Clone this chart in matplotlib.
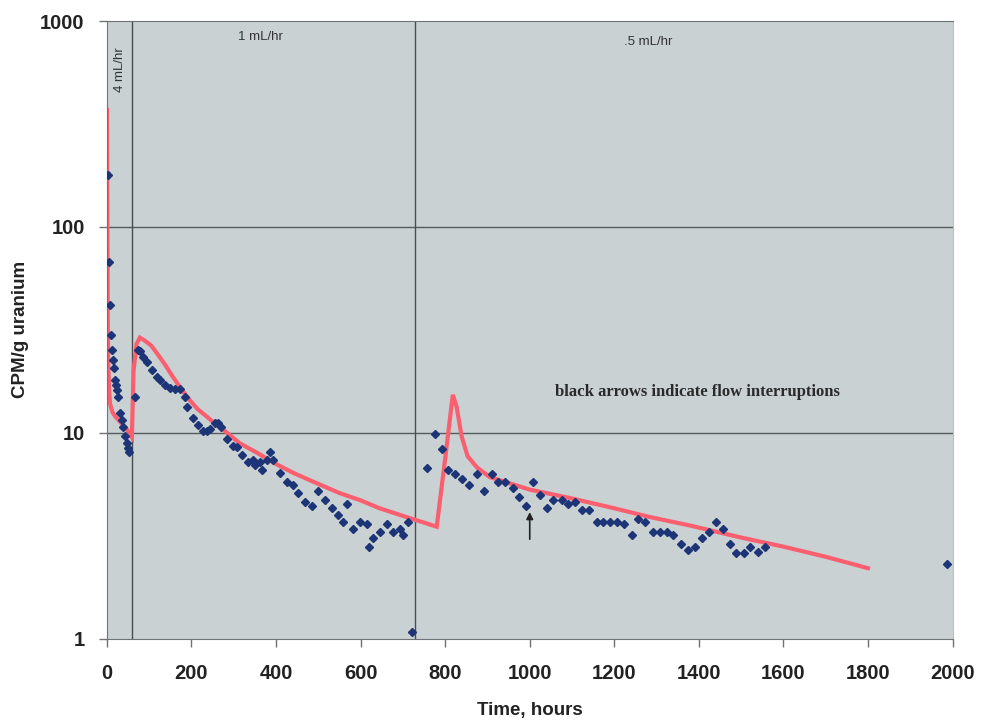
import matplotlib.pyplot as plt
import numpy as np

plt.rcParams['font.family'] = ['Liberation Sans', 'DejaVu Sans']

# measured CPM/g uranium (blue diamonds)
hours = [2, 4, 7, 9, 12, 14, 17, 19, 22, 24, 26, 31, 35, 38, 43, 47, 50, 52,
         66, 73, 78, 85, 94, 106, 118, 125, 137, 149, 161, 173, 184, 189,
         203, 215, 227, 236, 243, 255, 262, 270, 284, 298, 307, 319, 333,
         345, 350, 362, 366, 378, 385, 392, 409, 426, 440, 452, 468, 485,
         499, 515, 532, 546, 558, 567, 582, 598, 615, 619, 629, 645, 662,
         676, 693, 700, 712, 721,
         756, 775, 792, 806, 823, 839, 856, 875, 891, 910, 924, 941, 960,
         974, 991, 1007, 1024, 1040, 1054, 1076, 1090, 1106, 1123, 1140,
         1158, 1173, 1189, 1206, 1222, 1241, 1255, 1272, 1291, 1307, 1324,
         1338, 1357, 1374, 1390, 1407, 1423, 1440, 1456, 1473, 1489, 1506,
         1522, 1539, 1556, 1986]
cpm = [179, 67.6, 41.8, 29.9, 25.3, 22.6, 20.7, 18.1, 17.0, 16.2, 15.0, 12.5,
       11.6, 10.7, 9.6, 8.9, 8.45, 8.1,
       15.0, 25.3, 24.9, 23.4, 22.1, 20.3, 18.7, 18.1, 17.0, 16.6, 16.4, 16.4,
       15.0, 13.4, 11.8, 10.9, 10.2, 10.2, 10.4, 11.2, 11.2, 10.7, 9.3, 8.6,
       8.5, 7.8, 7.2, 7.4, 7.0, 7.2, 6.6, 7.4, 8.1, 7.4, 6.4, 5.8, 5.6, 5.1,
       4.6, 4.4, 5.2, 4.7, 4.3, 4.0, 3.7, 4.5, 3.4, 3.7, 3.6, 2.8, 3.1, 3.3,
       3.6, 3.3, 3.4, 3.2, 3.7, 1.08,
       6.75, 9.9, 8.3, 6.6, 6.3, 6.0, 5.6, 6.3, 5.2, 6.3, 5.8, 5.8, 5.4,
       4.9, 4.4, 5.8, 5.0, 4.3, 4.7, 4.7, 4.5, 4.6, 4.2, 4.2, 3.7, 3.7, 3.7,
       3.7, 3.6, 3.2, 3.8, 3.7, 3.3, 3.3, 3.3, 3.2, 2.9, 2.7, 2.8, 3.1, 3.3,
       3.7, 3.4, 2.9, 2.6, 2.6, 2.8, 2.65, 2.8, 2.3]

# model curve (red line)
model_t = [0, 0.5, 1, 1.5, 2, 3, 5, 7, 10, 14, 20, 31, 40, 47, 54, 59,
           63, 70, 78, 90, 105, 118, 137, 156, 175, 196, 215, 236, 255, 274,
           314, 355, 392, 440, 487, 550, 600, 645, 700, 780,
           800, 818, 827, 839, 853, 875, 905, 1000, 1100, 1200, 1284, 1378,
           1500, 1600, 1700, 1800]
model_cpm = [370, 200, 110, 60, 35, 22, 16.5, 14.0, 13.2, 12.5, 12.0, 11.3,
             10.8, 10.4, 9.8, 9.5,
             20, 27, 29, 28, 26.5, 24.4, 21.5, 18.7, 16.4, 14.4, 13.0, 12.0,
             11.1, 10.4, 8.9, 8.0, 7.2, 6.4, 5.8, 5.1, 4.7, 4.3, 3.95, 3.5,
             7.5, 15.3, 13.4, 9.6, 7.7, 6.8, 6.1, 5.3, 4.8, 4.3, 3.9, 3.55,
             3.1, 2.8, 2.5, 2.2]

flow_changes = [59, 728]

fig = plt.figure(figsize=(9.81, 7.25), dpi=100)
ax = fig.add_axes([0.109, 0.119, 0.862, 0.852])
ax.set_facecolor('#c9d1d3')

ax.plot(model_t, model_cpm, color='#fa5f6f', lw=3, zorder=2,
        solid_joinstyle='miter')
ax.plot(hours, cpm, ls='none', marker='D', ms=4.5, color='#1d3576', zorder=3)

ax.set_yscale('log')
ax.set_ylim(1, 1000)
ax.set_xlim(0, 2000)
ax.set_xticks(np.arange(0, 2001, 200))
ax.set_yticks([1, 10, 100, 1000])
ax.set_yticklabels(['1', '10', '100', '1000'])
ax.yaxis.set_minor_locator(plt.NullLocator())

for yv in [10, 100]:
    ax.axhline(yv, color='#575b5d', lw=1, zorder=1)
for xv in flow_changes:
    ax.axvline(xv, color='#4a4d4f', lw=1, zorder=1)

for side in ['left', 'bottom', 'top']:
    ax.spines[side].set_color('#6f7375')
ax.spines['right'].set_color('#b8bfc1')

ax.tick_params(direction='out', length=6, color='#6f7375', width=1,
               labelsize=14.5)
ax.tick_params(axis='x', pad=12)
ax.tick_params(axis='y', pad=10)
for lab in ax.get_xticklabels() + ax.get_yticklabels():
    lab.set_fontweight('bold')
    lab.set_color('#222222')

ax.set_xlabel('Time, hours', fontsize=13.5, fontweight='bold',
              color='#222222', labelpad=14)
ax.set_ylabel('CPM/g uranium', fontsize=13.5, fontweight='bold',
              color='#222222', labelpad=8)

ax.text(32, 578, '4 mL/hr', rotation=90, fontsize=9.5, ha='center',
        va='center', color='#333333')
ax.text(364, 836, '1 mL/hr', fontsize=9.5, ha='center', va='center',
        color='#333333')
ax.text(1279, 791, '.5 mL/hr', fontsize=9.5, ha='center', va='center',
        color='#333333')
ax.text(1397, 15.8, 'black arrows indicate flow interruptions',
        fontsize=12, fontweight='bold', ha='center', va='center',
        family='Liberation Serif', color='#2a2a2a')
ax.annotate('', xy=(1000, 4.25), xytext=(1000, 2.95),
            arrowprops=dict(arrowstyle='-|>', color='#222222', lw=1.2,
                            mutation_scale=10))

fig.savefig('out.png', dpi=100)
